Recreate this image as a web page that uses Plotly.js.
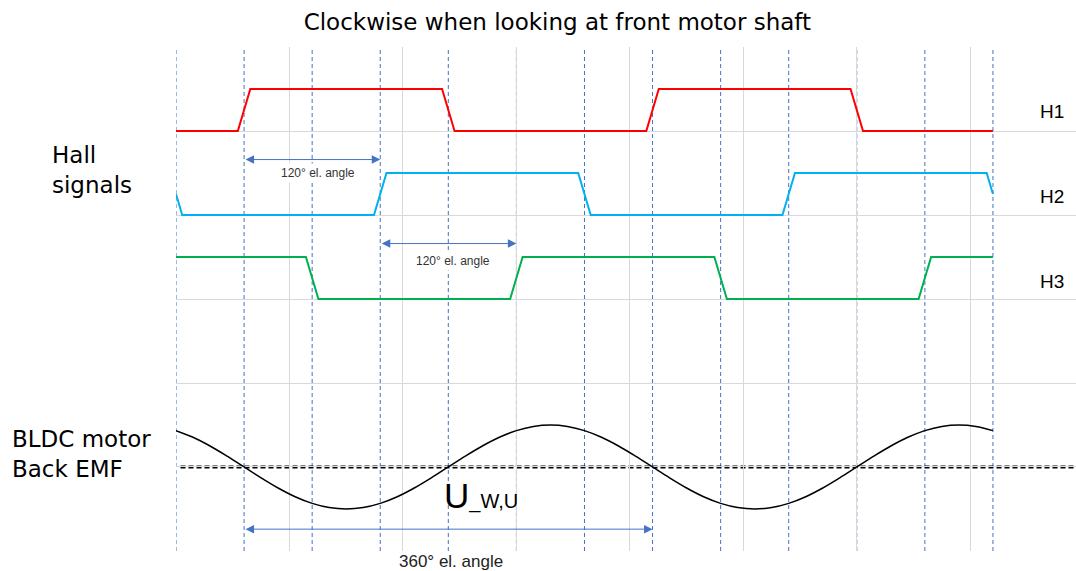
<!DOCTYPE html>
<html>
<head>
<meta charset="utf-8">
<script src="https://cdn.plot.ly/plotly-3.0.1.min.js"></script>
<style>html,body{margin:0;padding:0;background:#fff;}#chart{width:1076px;height:571px;}</style>
</head>
<body>
<div id="chart"></div>
<script>
// ---- data (electrical angle in degrees, signal level) ----
const h1Angle = [0, 54.5, 65.5, 234.5, 245.5, 414.5, 425.5, 594.5, 605.5, 720];
const h1Level = [5, 5, 5.5, 5.5, 5, 5, 5.5, 5.5, 5, 5];

const h2Angle = [0, 5.5, 174.5, 185.5, 354.5, 365.5, 534.5, 545.5, 714.5, 720];
const h2Level = [4.25, 4, 4, 4.5, 4.5, 4, 4, 4.5, 4.5, 4.25];

const h3Angle = [0, 114.5, 125.5, 294.5, 305.5, 474.5, 485.5, 654.5, 665.5, 720];
const h3Level = [3.5, 3.5, 3, 3, 3.5, 3.5, 3, 3, 3.5, 3.5];

const emfAngle = [0,15,30,45,60,75,90,105,120,135,150,165,180,195,210,225,240,255,270,285,300,315,330,345,
                  360,375,390,405,420,435,450,465,480,495,510,525,540,555,570,585,600,615,630,645,660,675,690,705,720];
const emfValue = [1.433,1.354,1.25,1.129,1.0,0.871,0.75,0.646,0.567,0.517,0.5,0.517,0.567,0.646,0.75,0.871,1.0,1.129,1.25,1.354,1.433,1.483,1.5,1.483,
                  1.433,1.354,1.25,1.129,1.0,0.871,0.75,0.646,0.567,0.517,0.5,0.517,0.567,0.646,0.75,0.871,1.0,1.129,1.25,1.354,1.433,1.483,1.5,1.483,1.433];

const markAngles = [0,60,120,180,240,300,360,420,480,540,600,660,720];
const zeroLevel = 1;

const signalNames = ["H1", "H2", "H3"];
const signalLabelAngle = 772;
const signalLabelLevel = [5.23, 4.22, 3.21];

const span120a = [60, 180, 4.66];
const span120b = [180, 300, 3.66];
const span360 = [60, 420, 0.26];

const FONT = "Liberation Sans, Arial, sans-serif";
const WIDE = "DejaVu Sans, Arial, sans-serif";
const BLUE = "#4472C4";

const traces = [
  {x: emfAngle, y: emfValue, mode: "lines", line: {color: "#000", width: 1.5, shape: "spline"}, hoverinfo: "skip"},
  {x: h1Angle, y: h1Level, mode: "lines", line: {color: "#FF0000", width: 2}, hoverinfo: "skip"},
  {x: h2Angle, y: h2Level, mode: "lines", line: {color: "#00B0F0", width: 2}, hoverinfo: "skip"},
  {x: h3Angle, y: h3Level, mode: "lines", line: {color: "#00B050", width: 2}, hoverinfo: "skip"}
];

const shapes = markAngles.map(a => ({
  type: "line", xref: "x", yref: "paper", x0: a, x1: a, y0: 0, y1: 1, layer: "between",
  line: {color: BLUE, width: 1, dash: "4px,3px"}
}));
shapes.push({type: "line", xref: "paper", yref: "y", x0: 0.005, x1: 1, y0: zeroLevel, y1: zeroLevel, layer: "between",
  line: {color: "#000", width: 3, dash: "5px,3px"}});

function spanArrow(s) {
  return {x: s[1], y: s[2], ax: s[0], ay: s[2], xref: "x", yref: "y", axref: "x", ayref: "y",
    text: "", showarrow: true, arrowhead: 2, startarrowhead: 2, arrowside: "end+start",
    arrowsize: 1.7, startarrowsize: 1.7, arrowwidth: 1, arrowcolor: BLUE, standoff: 0, startstandoff: 0};
}

const annotations = [
  spanArrow(span120a), spanArrow(span120b), spanArrow(span360),
  {x: 125, y: 4.5, xref: "x", yref: "y", text: "120° el. angle", showarrow: false,
   font: {family: FONT, size: 12, color: "#333"}, bgcolor: "#fff", borderpad: 2},
  {x: 244, y: 3.45, xref: "x", yref: "y", text: "120° el. angle", showarrow: false,
   font: {family: FONT, size: 12, color: "#333"}, bgcolor: "#fff", borderpad: 2},
  {x: 242, y: -0.02, xref: "x", yref: "paper", text: "360° el. angle", showarrow: false,
   font: {family: FONT, size: 17, color: "#222"}, yanchor: "middle", borderpad: 0},
  {x: 234, y: 0.66, xref: "x", yref: "y", xanchor: "left", yanchor: "middle",
   text: "U<span style='font-size:20px'>_W,U</span>", showarrow: false,
   font: {family: FONT, size: 35, color: "#000"}},
  {x: -0.14, y: 0.756, xref: "paper", yref: "paper", xanchor: "left", yanchor: "middle", align: "left",
   text: "Hall<br>signals", showarrow: false, font: {family: WIDE, size: 23, color: "#000"}},
  {x: -0.1842, y: 0.193, xref: "paper", yref: "paper", xanchor: "left", yanchor: "middle", align: "left",
   text: "BLDC motor<br>Back EMF", showarrow: false, font: {family: WIDE, size: 23, color: "#000"}}
];
signalNames.forEach((n, i) => annotations.push({
  x: signalLabelAngle, y: signalLabelLevel[i], xref: "x", yref: "y", text: n, showarrow: false,
  font: {family: FONT, size: 19, color: "#000"}
}));

const layout = {
  width: 1076, height: 571,
  margin: {l: 176, r: 0, t: 47, b: 20},
  paper_bgcolor: "#fff", plot_bgcolor: "#fff",
  showlegend: false,
  title: {text: "Clockwise when looking at front motor shaft", x: 0.518, xref: "container", xanchor: "center",
          y: 0.9615, yref: "container", yanchor: "middle", font: {family: WIDE, size: 23, color: "#000"}},
  xaxis: {range: [0, 793.2], tick0: 0, dtick: 100, showgrid: true, gridcolor: "#d9d9d9", gridwidth: 1,
          zeroline: false, showticklabels: false, ticks: "", showline: false, fixedrange: true},
  yaxis: {range: [-0.0001, 6.0001], tick0: 0, dtick: 1, showgrid: true, gridcolor: "#d9d9d9", gridwidth: 1,
          zeroline: false, showticklabels: false, ticks: "", showline: false, fixedrange: true},
  shapes: shapes,
  annotations: annotations
};

Plotly.newPlot("chart", traces, layout, {displayModeBar: false, staticPlot: true});
</script>
</body>
</html>
